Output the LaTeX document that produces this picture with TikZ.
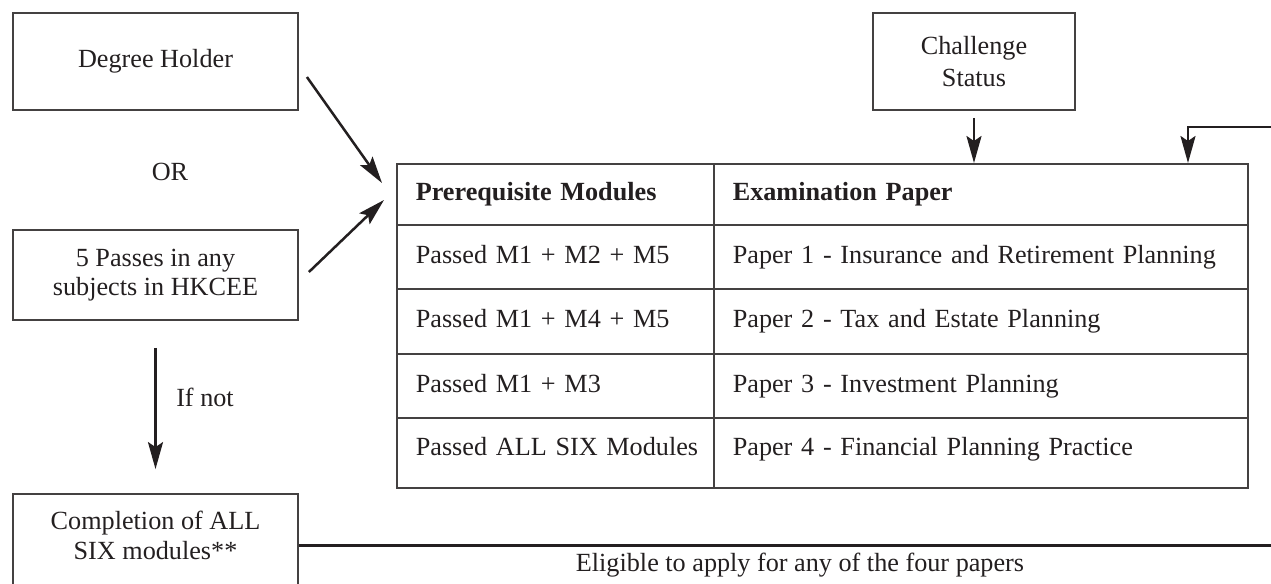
\documentclass[tikz,border=0pt]{standalone}
\usepackage{fontspec}
\setmainfont{Liberation Serif}
\usetikzlibrary{arrows.meta}
\definecolor{ink}{HTML}{231F20}
\begin{document}
\begin{tikzpicture}[x=0.5pt,y=-0.5pt,
  font=\fontsize{13.1}{15}\selectfont, text=ink,
  box/.style={draw=ink!85, line width=0.9pt, inner sep=0pt, align=center, minimum width=142.5pt},
  cell/.style={draw=ink!85, line width=0.8pt, anchor=north west, inner xsep=9.5pt, inner ysep=0pt,
    text height=9pt, text depth=2.5pt},
  colA/.style={cell, minimum width=158.5pt, text width=139.5pt, align=left},
  colB/.style={cell, minimum width=267pt, text width=248pt, align=left},
  arr/.style={draw=ink, line width=1.25pt, line join=miter, -{Stealth[length=13.5pt,width=7.5pt,inset=2.5pt]}},
  lbl/.style={inner sep=0pt}]
\useasboundingbox (0,0) rectangle (1271,584);
\clip (0,0) rectangle (1271,584);

% left column boxes
\node[box, minimum height=48.5pt] (deg) at (155.5,61.5) {Degree Holder};
\node[lbl] (or) at (170,172) {OR};
\node[box, minimum height=45pt, font=\fontsize{13.1}{14.5}\selectfont] (pass) at (155.5,275) {5 Passes in any\\subjects in HKCEE};
\node[lbl] (ifnot) at (205,397) {If not};
\node[box, minimum height=51pt] (comp) at (155.5,545) {};
\node[lbl, align=center, font=\fontsize{13.1}{15}\selectfont] (comptext) at (155.5,535) {Completion of ALL\\SIX modules**};

% challenge status
\node[box, minimum width=101pt, minimum height=48.5pt, font=\fontsize{13.1}{16}\selectfont] (chal) at (974,61.5) {Challenge\\Status};

% table
\node[colA, minimum height=30.5pt] (h1) at (396,163) {\textbf{Prerequisite Modules}};
\node[colB, minimum height=30.5pt] (h2) at (713,163) {\textbf{Examination Paper}};
\node[colA, minimum height=32pt] (a1) at (396,224) {Passed M1 + M2 + M5};
\node[colB, minimum height=32pt] (a2) at (713,224) {Paper 1 - Insurance and Retirement Planning};
\node[colA, minimum height=32.5pt] (b1) at (396,288) {Passed M1 + M4 + M5};
\node[colB, minimum height=32.5pt] (b2) at (713,288) {Paper 2 - Tax and Estate Planning};
\node[colA, minimum height=32pt] (c1) at (396,353) {Passed M1 + M3};
\node[colB, minimum height=32pt] (c2) at (713,353) {Paper 3 - Investment Planning};
\node[colA, minimum height=35pt] (d1) at (396,417) {\raisebox{2pt}{Passed ALL SIX Modules}};
\node[colB, minimum height=35pt] (d2) at (713,417) {\raisebox{2pt}{Paper 4 - Financial Planning Practice}};

% arrow targets and free ends
\coordinate (t1) at (382,183);
\coordinate (t2) at (384,200);
\coordinate (rin) at (1271,127);
\coordinate (rt) at (1188,163);
\coordinate (rend) at (1271,545);

\draw[arr] ([shift={(4pt,-7.75pt)}]deg.east) -- (t1);
\draw[arr] ([shift={(5pt,1.5pt)}]pass.east) -- (t2);
\draw[arr] ([yshift=-3.5pt]chal.south) -- (chal.south |- h2.north);
\draw[arr] (rin) -| (rt);
\draw[arr] ([yshift=-13.5pt]pass.south) -- ([yshift=12pt]comp.north);
\draw[draw=ink, line width=1.5pt] (comp.east) -- (rend);

\node[lbl] (elig) at (800,565) {Eligible to apply for any of the four papers};
\end{tikzpicture}
\end{document}
